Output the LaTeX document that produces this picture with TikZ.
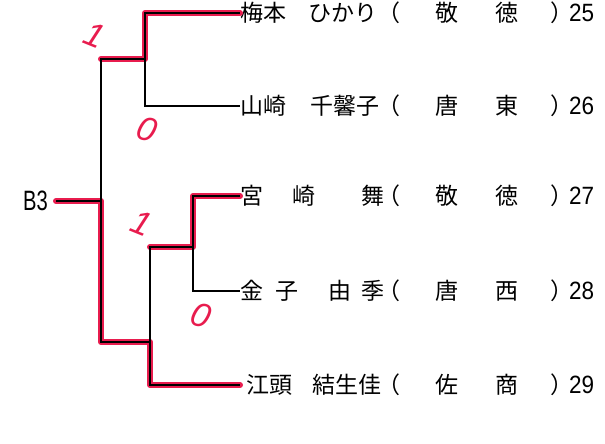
\documentclass[tikz,border=0pt]{standalone}
\usepackage{fontspec}
\newfontfamily\jpfont{Noto Sans CJK JP}
\newfontfamily\numfont[FakeStretch=0.9]{Liberation Sans}
\newfontfamily\bfont[FakeStretch=0.72]{Liberation Sans}
\newfontfamily\markfont{Liberation Sans}
\definecolor{markred}{RGB}{232,28,78}
% name field, then club and draw number
\newcommand{\player}[4]{\makebox[137pt][l]{#1}（\hspace{35pt}#2\hspace{37pt}#3\hspace{32pt}）\hspace{-4pt}{\numfont\fontsize{25}{25}\selectfont #4}}
\begin{document}
\begin{tikzpicture}[x=1pt, y=-1pt,
    tie/.style={line width=1.2pt},
    win/.style={markred, line width=6pt, line cap=round, line join=round},
    entry/.style={anchor=west, inner sep=0pt, font=\jpfont\fontsize{23}{23}\selectfont},
    score/.style={markred, inner sep=0pt, font=\markfont\itshape\fontsize{34}{34}\selectfont}]
    \useasboundingbox (0,0) rectangle (605,444);
    % players
    \node[entry] (p25) at (240,13)  {\player{梅本\hspace{22pt}ひかり}{敬}{徳}{25}};
    \node[entry] (p26) at (240,106) {\player{山崎\hspace{24pt}千馨子}{唐}{東}{26}};
    \node[entry] (p27) at (240,196) {\player{宮\hspace{29pt}崎\hspace{46pt}舞}{敬}{徳}{27}};
    \node[entry] (p28) at (240,291) {\player{金\hspace{12pt}子\hspace{30pt}由\hspace{10pt}季}{唐}{西}{28}};
    \node[entry] (p29) at (240,385) {\player{\hspace{6pt}江頭\hspace{20pt}結生佳}{佐}{商}{29}};
    \node[anchor=east, inner sep=0pt, font=\bfont\fontsize{28}{28}\selectfont] (b3) at (48,201) {B3};
    % joints
    \coordinate (k0) at (101,201);
    \coordinate (k1) at (145,59);
    \coordinate (k2) at (193,247);
    \coordinate (k3) at (150,342);
    % winners, marked in red
    \draw[win] (p25.west) -| (k1) -- (k0 |- k1);
    \draw[win] (p27.west) -| (k2) -- (k3 |- k2);
    \draw[win, shorten <=8pt] (b3.east) -- (k0) |- (k3) |- (p29.west);
    % bracket
    \draw[tie] (p25.west) -| (k1) |- (p26.west);
    \draw[tie] (p27.west) -| (k2) |- (p28.west);
    \draw[tie] (k1) -- (k0 |- k1) -- (k0 |- k3) -- (k3);
    \draw[tie] (k2) -- (k3 |- k2) -- (k3) |- (p29.west);
    \draw[tie, shorten <=8pt] (b3.east) -- (k0);
    % scores
    \node[score, rotate=-22] (w1) at (95,35) {1};
    \node[score, rotate=-18] (l1) at (147,129) {0};
    \node[score, rotate=-22] (w2) at (142,223) {1};
    \node[score, rotate=-18] (l2) at (201,315) {0};
\end{tikzpicture}
\end{document}
